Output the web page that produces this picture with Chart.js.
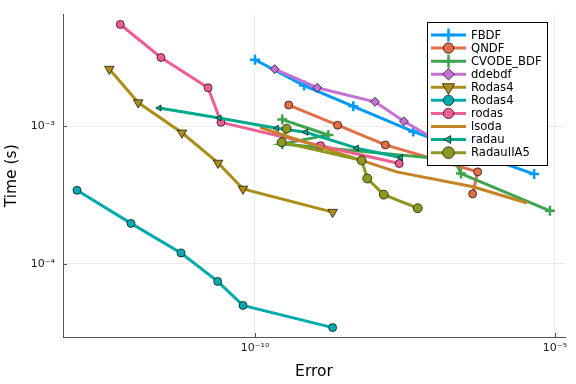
<!DOCTYPE html>
<html>
<head>
<meta charset="utf-8">
<script src="https://cdn.jsdelivr.net/npm/chart.js@4"></script>
<style>
  html, body { margin: 0; padding: 0; background: #fff; }
  #wrap { width: 576px; height: 384px; }
</style>
</head>
<body>
<div id="wrap"><canvas id="chart" width="576" height="384"></canvas></div>
<script>
/* =========================
   DATA (error vs time)
========================= */
const fbdfErr = [1.0e-10, 6.6e-10, 4.35e-9, 4.35e-8, 4.5e-6];
const fbdfTime = [3.05e-3, 1.98e-3, 1.40e-3, 9.16e-4, 4.50e-4];

const qndfErr = [3.65e-10, 2.39e-9, 1.49e-8, 5.15e-7, 4.25e-7];
const qndfTime = [1.43e-3, 1.02e-3, 7.33e-4, 4.67e-4, 3.23e-4];

const cvodeErr = [2.85e-10, 1.67e-9, 2.85e-10, 2.15e-7, 2.71e-7, 8.25e-6];
const cvodeTime = [1.12e-3, 8.66e-4, 7.46e-4, 5.69e-4, 4.54e-4, 2.43e-4];

const ddebdfErr = [2.13e-10, 1.09e-9, 1.0e-8, 3.04e-8, 1.47e-7];
const ddebdfTime = [2.61e-3, 1.91e-3, 1.51e-3, 1.09e-3, 7.3e-4];

const rodas4Err = [3.73e-13, 1.13e-12, 6.07e-12, 2.42e-11, 6.31e-11, 1.97e-9];
const rodas4Time = [2.61e-3, 1.49e-3, 8.98e-4, 5.42e-4, 3.51e-4, 2.38e-4];

const rodas4bErr = [1.08e-13, 8.57e-13, 5.85e-12, 2.39e-11, 6.31e-11, 1.97e-9];
const rodas4bTime = [3.43e-4, 1.97e-4, 1.2e-4, 7.46e-5, 4.99e-5, 3.44e-5];

const rodasErr = [5.69e-13, 2.71e-12, 1.65e-11, 2.71e-11, 1.24e-9, 2.54e-8];
const rodasTime = [5.51e-3, 3.17e-3, 1.91e-3, 1.07e-3, 7.24e-4, 5.37e-4];

const lsodaErr = [1.21e-10, 2.30e-8, 4.30e-7, 3.41e-6];
const lsodaTime = [9.84e-4, 4.67e-4, 3.64e-4, 2.77e-4];

const radauErr = [2.54e-12, 2.54e-11, 2.30e-10, 7.08e-10, 4.95e-9, 2.68e-8];
const radauTime = [1.36e-3, 1.15e-3, 9.68e-4, 9.06e-4, 6.95e-4, 5.93e-4];

const radauIIA5Err = [3.37e-10, 2.79e-10, 6.0e-9, 7.44e-9, 1.40e-8, 5.15e-8];
const radauIIA5Time = [9.62e-4, 7.67e-4, 5.66e-4, 4.18e-4, 3.19e-4, 2.54e-4];

const xTicks = [1e-10, 1e-5];
const xTickLabels = ["10\u207B\u00B9\u2070", "10\u207B\u2075"];
const yTicks = [1e-4, 1e-3];
const yTickLabels = ["10\u207B\u2074", "10\u207B\u00B3"];

/* =========================
   SERIES
========================= */
const series = [
  { label: "FBDF", err: fbdfErr, time: fbdfTime, color: "#009AFA", marker: "cross", r: 5 },
  { label: "QNDF", err: qndfErr, time: qndfTime, color: "#E36F47", marker: "circle", r: 4 },
  { label: "CVODE_BDF", err: cvodeErr, time: cvodeTime, color: "#3EA44E", marker: "cross", r: 5 },
  { label: "ddebdf", err: ddebdfErr, time: ddebdfTime, color: "#C371D2", marker: "rectRot", r: 4.5 },
  { label: "Rodas4", err: rodas4Err, time: rodas4Time, color: "#AC8E18", marker: "triangle", r: 5.5, rot: 180 },
  { label: "Rodas4", err: rodas4bErr, time: rodas4bTime, color: "#00AAAE", marker: "circle", r: 4 },
  { label: "rodas", err: rodasErr, time: rodasTime, color: "#ED5E93", marker: "circle", r: 4 },
  { label: "lsoda", err: lsodaErr, time: lsodaTime, color: "#C68225", marker: "circle", r: 0 },
  { label: "radau", err: radauErr, time: radauTime, color: "#00A98D", marker: "triangle", r: 3.5, rot: -90 },
  { label: "RadauIIA5", err: radauIIA5Err, time: radauIIA5Time, color: "#8E971E", marker: "circle", r: 4.5 }
];

const datasets = series.map((s, i) => ({
  label: s.label,
  data: s.err.map((e, k) => ({ x: e, y: s.time[k] })),
  showLine: true,
  borderColor: s.color,
  borderWidth: 3,
  backgroundColor: s.color,
  pointStyle: s.marker,
  pointRadius: s.r,
  pointRotation: s.rot || 0,
  pointBackgroundColor: s.color,
  pointBorderColor: s.marker === "cross" ? s.color : "rgba(0,0,0,0.85)",
  pointBorderWidth: s.marker === "cross" ? 2.5 : 0.8,
  order: series.length - i
}));

/* =========================
   PLUGINS
========================= */
const tickMarks = {
  id: "tickMarks",
  afterDraw(chart) {
    const { ctx, chartArea } = chart;
    const xs = chart.scales.x, ys = chart.scales.y;
    ctx.save();
    ctx.strokeStyle = "#555";
    ctx.lineWidth = 1;
    ctx.beginPath();
    xTicks.forEach(v => {
      const px = Math.round(xs.getPixelForValue(v)) + 0.5;
      ctx.moveTo(px, chartArea.bottom);
      ctx.lineTo(px, chartArea.bottom - 4);
    });
    yTicks.forEach(v => {
      const py = Math.round(ys.getPixelForValue(v)) + 0.5;
      ctx.moveTo(chartArea.left, py);
      ctx.lineTo(chartArea.left + 4, py);
    });
    ctx.stroke();
    ctx.restore();
  }
};

const legendBox = {
  id: "legendBox",
  afterDraw(chart) {
    const ctx = chart.ctx;
    const x0 = 427, y0 = 22, w = 120, h = 143;
    ctx.save();
    ctx.fillStyle = "#fff";
    ctx.fillRect(x0, y0, w, h);
    ctx.strokeStyle = "#000";
    ctx.lineWidth = 1;
    ctx.strokeRect(x0 + 0.5, y0 + 0.5, w, h);
    ctx.font = "11.6px 'DejaVu Sans'";
    ctx.textBaseline = "middle";
    chart.data.datasets.forEach((ds, i) => {
      const y = 35 + i * 13.07;
      ctx.strokeStyle = ds.borderColor;
      ctx.lineWidth = 3;
      ctx.beginPath();
      ctx.moveTo(431, y);
      ctx.lineTo(466, y);
      ctx.stroke();
      if (ds.pointRadius > 0 && Chart.helpers && Chart.helpers.drawPoint) {
        ctx.fillStyle = ds.pointBackgroundColor;
        ctx.strokeStyle = ds.pointBorderColor;
        ctx.lineWidth = ds.pointBorderWidth;
        Chart.helpers.drawPoint(ctx, {
          pointStyle: ds.pointStyle,
          radius: ds.pointRadius * 1.3,
          rotation: ds.pointRotation,
          borderWidth: ds.pointBorderWidth
        }, 448.5, y);
      }
      ctx.fillStyle = "#000";
      ctx.fillText(ds.label, 471, y + 0.5);
    });
    ctx.restore();
  }
};

/* =========================
   CHART
========================= */
const tickFont = { family: "'DejaVu Sans'", size: 11 };
const titleFont = { family: "'DejaVu Sans'", size: 15.5 };

new Chart(document.getElementById("chart"), {
  type: "scatter",
  data: { datasets },
  options: {
    responsive: false,
    devicePixelRatio: 1,
    animation: false,
    layout: { padding: { top: 11, right: 11, left: 0, bottom: 0 } },
    plugins: { legend: { display: false }, tooltip: { enabled: false } },
    scales: {
      x: {
        type: "logarithmic",
        position: "bottom",
        min: 6.31e-14,
        max: 1.47e-5,
        afterBuildTicks: s => { s.ticks = xTicks.map(v => ({ value: v })); },
        afterFit: s => { s.height = 47; },
        ticks: {
          autoSkip: false,
          maxRotation: 0,
          padding: 5,
          color: "#222",
          font: tickFont,
          callback: v => xTickLabels[xTicks.indexOf(v)] ?? ""
        },
        grid: { color: "rgba(0,0,0,0.08)", lineWidth: 1, drawTicks: false },
        border: { display: true, color: "#555", width: 1 },
        title: { display: true, text: "Error", color: "#000", font: titleFont, padding: { top: 0, bottom: 3 } }
      },
      y: {
        type: "logarithmic",
        position: "left",
        min: 2.94e-5,
        max: 6.5e-3,
        afterBuildTicks: s => { s.ticks = yTicks.map(v => ({ value: v })); },
        afterFit: s => { s.width = 63; },
        ticks: {
          autoSkip: false,
          padding: 8,
          color: "#222",
          font: tickFont,
          callback: v => yTickLabels[yTicks.indexOf(v)] ?? ""
        },
        grid: { color: "rgba(0,0,0,0.08)", lineWidth: 1, drawTicks: false },
        border: { display: true, color: "#555", width: 1 },
        title: { display: true, text: "Time (s)", color: "#000", font: titleFont, padding: { top: 3, bottom: 0 } }
      }
    }
  },
  plugins: [tickMarks, legendBox]
});
</script>
</body>
</html>
